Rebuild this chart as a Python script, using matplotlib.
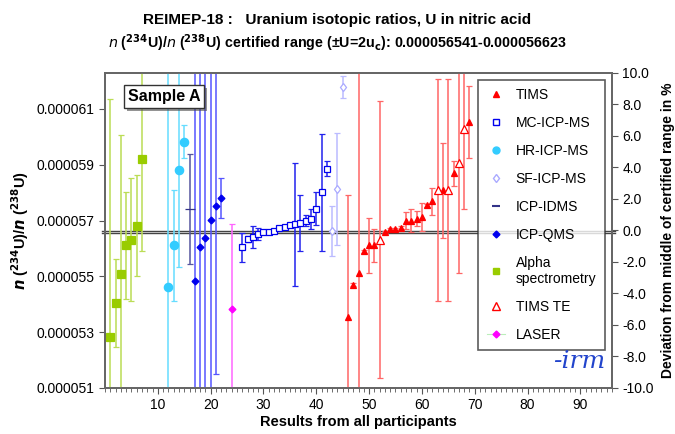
#!/usr/bin/env python3

import matplotlib
matplotlib.use('Agg')
import matplotlib.pyplot as plt
import matplotlib.patheffects as pe
from matplotlib.lines import Line2D
from matplotlib.ticker import MultipleLocator, FuncFormatter

# values in units of 1e-6, err = expanded uncertainty (symmetric)
alpha_x = [1, 2, 3, 4, 5, 6, 7]
alpha_v = [52.84, 54.04, 55.08, 56.11, 56.32, 56.82, 59.22]
alpha_e = [8.5, 1.58, 5.0, 1.92, 2.2, 1.8, 3.3]

hr_x = [12, 13, 14, 15]
hr_v = [54.62, 56.11, 58.83, 59.83]
hr_e = [9.0, 2.0, 3.5, 0.6]

idms_x = [16]
idms_v = [57.43]
idms_e = [1.97]

qms_x = [17, 18, 19, 20, 21, 22]
qms_v = [54.82, 56.05, 56.38, 57.01, 57.54, 57.81]
qms_e = [9.0, 9.0, 9.0, 9.0, 6.04, 0.72]

laser_x = [24]
laser_v = [53.84]
laser_e = [3.05]

mc_x = list(range(26, 43))
mc_v = [56.04, 56.35, 56.40, 56.52, 56.59, 56.60, 56.63, 56.73, 56.76,
        56.83, 56.86, 56.91, 57.00, 57.07, 57.43, 58.02, 58.86]
mc_e = [0.53, 0.1, 0.39, 0.23, 0.05, 0.05, 0.05, 0.08, 0.05,
        0.05, 2.2, 1.0, 0.2, 0.36, 0.6, 2.1, 0.26]

sf_x = [43, 44, 45]
sf_v = [56.62, 58.13, 61.80]
sf_e = [0.9, 2.0, 0.39]

tims_x = [46, 47, 48, 49, 50, 51, 53, 54, 55, 56, 57, 58, 59, 60, 61, 62, 64, 66, 69]
tims_v = [53.54, 54.70, 55.12, 55.90, 56.11, 56.11, 56.59, 56.69, 56.69, 56.74,
          57.00, 57.00, 57.07, 57.13, 57.55, 57.69, 58.09, 58.69, 60.53]
tims_e = [4.36, 0.05, 9.0, 0.05, 1.0, 0.58, 0.05, 0.05, 0.05, 0.05,
          0.31, 0.41, 0.27, 0.5, 0.05, 0.48, 1.7, 0.44, 1.3]

te_x = [52, 63, 65, 67, 68]
te_v = [56.32, 58.09, 58.09, 59.07, 60.27]
te_e = [4.97, 3.98, 3.98, 3.95, 2.87]

cert_low = 56.541
cert_high = 56.623

fig = plt.figure(figsize=(6.75, 4.34), dpi=100)
plt.rcParams['font.family'] = ['Liberation Sans', 'DejaVu Sans']
ax = fig.add_axes([0.1556, 0.106, 0.7511, 0.7265])

S = 1e-6


def series(x, v, e, color, ecolor, marker, ms, mfc=None, lw=1.1):
    ax.errorbar(x, [a * S for a in v], yerr=[a * S for a in e], fmt=marker,
                color=color, mfc=mfc if mfc else color, mec=color, ms=ms,
                ecolor=ecolor, elinewidth=lw, capsize=2.5, capthick=lw,
                mew=0.9, zorder=3)


series(alpha_x, alpha_v, alpha_e, '#99CC00', '#BBDD55', 's', 6)
series(hr_x, hr_v, hr_e, '#33CCFF', '#66DDFF', 'o', 6)
series(idms_x, idms_v, idms_e, '#333388', '#55559F', '_', 7)
series(qms_x, qms_v, qms_e, '#0000EE', '#5555FF', 'D', 3.5)
series(laser_x, laser_v, laser_e, '#FF00FF', '#FF66FF', 'D', 3.5)
series(mc_x, mc_v, mc_e, '#0000EE', '#2222EE', 's', 5, mfc='white')
series(sf_x, sf_v, sf_e, '#AAAAFF', '#BBBBFF', 'd', 4.5, mfc='white')
series(tims_x, tims_v, tims_e, '#FF0000', '#FF6666', '^', 5)
series(te_x, te_v, te_e, '#FF0000', '#FF6666', '^', 6, mfc='white')

for c in (cert_low, cert_high):
    ax.axhline(c * S, xmin=-0.006, xmax=1.006, color='#444444', lw=1.0,
               clip_on=False, zorder=2)

ax.set_xlim(0, 96)
ax.set_ylim(51.0 * S, 62.3 * S)
ax.xaxis.set_minor_locator(MultipleLocator(1))
ax.set_xticks(range(10, 100, 10))
ax.set_yticks([a * S for a in (51, 53, 55, 57, 59, 61)])
ax.yaxis.set_major_formatter(FuncFormatter(lambda v, p: f'{v:.6f}'))
ax.tick_params(axis='both', labelsize=10, color='#555555', length=4)
ax.tick_params(axis='x', which='minor', length=3, color='#555555')
for s in ax.spines.values():
    s.set_color('#666666')
    s.set_linewidth(1.3)

ax2 = ax.twinx()
ax2.set_ylim(-10, 10)
ax2.set_yticks(range(-10, 11, 2))
ax2.yaxis.set_major_formatter(FuncFormatter(lambda v, p: f'{v:.1f}'))
ax2.tick_params(axis='y', labelsize=10, color='#555555', length=4)
for s in ax2.spines.values():
    s.set_color('#666666')
    s.set_linewidth(1.3)

ax.set_xlabel('Results from all participants', fontsize=10.5, fontweight='bold',
              labelpad=2)
ax.set_ylabel(r'$\mathbfit{n}$ ($^{\mathbf{234}}$U)/$\mathbfit{n}$ ($^{\mathbf{238}}$U)',
              fontsize=10.5, fontweight='bold', labelpad=4)
ax2.set_ylabel('Deviation from middle of certified range in %', fontsize=10,
               fontweight='bold', labelpad=5)

fig.text(0.5, 0.955, 'REIMEP-18 :   Uranium isotopic ratios, U in nitric acid',
         ha='center', va='center', fontsize=11, fontweight='bold')
fig.text(0.5, 0.9, r'$\mathit{n}$ ($^{\mathbf{234}}$U)/$\mathit{n}$ ($^{\mathbf{238}}$U) '
         r'certified range (±U=2u$_\mathbf{c}$): 0.000056541-0.000056623',
         ha='center', va='center', fontsize=10.3, fontweight='bold')

t = ax.text(0.045, 0.925, 'Sample A', transform=ax.transAxes, fontsize=11.5,
            fontweight='bold', va='center', ha='left', zorder=5,
            bbox=dict(boxstyle='square,pad=0.25', fc='white', ec='#333333', lw=1))
t.get_bbox_patch().set_path_effects([pe.withSimplePatchShadow(offset=(2, -2),
                                                              alpha=0.6)])

handles = [
    Line2D([], [], ls='none', marker='^', ms=4.5, color='#FF0000'),
    Line2D([], [], ls='none', marker='s', ms=4.5, color='#0000EE', mfc='white'),
    Line2D([], [], ls='none', marker='o', ms=5, color='#33CCFF'),
    Line2D([], [], ls='none', marker='d', ms=4.5, color='#AAAAFF', mfc='white'),
    Line2D([], [], ls='none', marker='_', ms=6, mew=1.5, color='#333388'),
    Line2D([], [], ls='none', marker='D', ms=3.5, color='#0000EE'),
    Line2D([], [], ls='none', marker='s', ms=4.5, color='#99CC00'),
    Line2D([], [], ls='none', marker='^', ms=5.5, color='#FF0000', mfc='white'),
    Line2D([], [], ls='-', lw=0.8, marker='D', ms=3.5, color='#BBEEBB',
           mfc='#FF00FF', mec='#FF00FF'),
]
labels = ['TIMS', 'MC-ICP-MS', 'HR-ICP-MS', 'SF-ICP-MS', 'ICP-IDMS', 'ICP-QMS',
          'Alpha\nspectrometry', 'TIMS TE', 'LASER']
leg = ax.legend(handles, labels, loc='upper left', bbox_to_anchor=(0.736, 0.977),
                fontsize=10, frameon=True, fancybox=False, handlelength=1.3,
                labelspacing=1.0, borderpad=0.6, handletextpad=0.8,
                borderaxespad=0)
leg.get_frame().set_edgecolor('#333333')
leg.get_frame().set_linewidth(1.2)
leg.set_zorder(4)

ax.text(0.935, 0.085, '-irm', transform=ax.transAxes, fontsize=18,
        fontstyle='italic', family='DejaVu Serif', color='#2244CC',
        ha='center', va='center', zorder=6)

fig.savefig('out.png', dpi=100)
